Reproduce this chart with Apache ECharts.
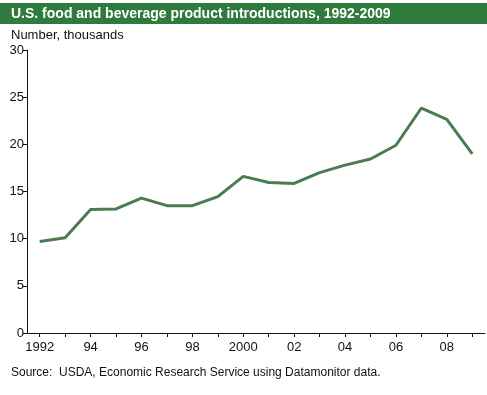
<!DOCTYPE html>
<html>
<head>
<meta charset="utf-8">
<script src="https://cdn.jsdelivr.net/npm/echarts@6/dist/echarts.min.js"></script>
<style>
html,body{margin:0;padding:0;background:#fff;}
#chart{width:487px;height:395px;}
</style>
</head>
<body>
<div id="chart"></div>
<script>
const years = ['1992','1993','1994','1995','1996','1997','1998','1999','2000','2001','2002','2003','2004','2005','2006','2007','2008','2009'];
const tickLabels = ['1992','','94','','96','','98','','2000','','02','','04','','06','','08',''];
const introductions = [9.7, 10.1, 13.1, 13.15, 14.3, 13.5, 13.5, 14.45, 16.6, 15.95, 15.85, 17.0, 17.8, 18.45, 19.9, 23.85, 22.65, 19.0];
const yTicks = [0, 5, 10, 15, 20, 25, 30];

const chart = echarts.init(document.getElementById('chart'), null, {renderer: 'canvas'});
const font = 'Liberation Sans, Arial, Helvetica, sans-serif';
chart.setOption({
  animation: false,
  backgroundColor: '#ffffff',
  graphic: [{
    type: 'rect',
    shape: {x: 0, y: 3, width: 487, height: 21},
    style: {fill: '#2f7b3e'},
    z: 0
  }],
  title: [
    {
      text: 'U.S. food and beverage product introductions, 1992-2009',
      left: 11, top: 7, padding: 0,
      textStyle: {color: '#ffffff', fontWeight: 'bold', fontSize: 14, lineHeight: 14, fontFamily: font}
    },
    {
      text: 'Number, thousands',
      left: 11, top: 28, padding: 0,
      textStyle: {color: '#111111', fontWeight: 'normal', fontSize: 13, lineHeight: 14, fontFamily: font}
    },
    {
      text: 'Source:  USDA, Economic Research Service using Datamonitor data.',
      left: 11, top: 366, padding: 0,
      textStyle: {color: '#111111', fontWeight: 'normal', fontSize: 12, lineHeight: 13, fontFamily: font}
    }
  ],
  grid: {left: 27, right: 2, top: 50, bottom: 62, containLabel: false},
  xAxis: {
    type: 'category',
    data: years,
    boundaryGap: true,
    axisLine: {lineStyle: {color: '#111111', width: 1}},
    axisTick: {show: true, alignWithLabel: true, interval: 0, length: 4, lineStyle: {color: '#111111'}},
    axisLabel: {
      interval: 0, margin: 8, color: '#111111', fontSize: 13, fontFamily: font,
      formatter: function (v, i) { return tickLabels[i]; }
    },
    splitLine: {show: false}
  },
  yAxis: {
    type: 'value',
    min: yTicks[0], max: yTicks[yTicks.length - 1], interval: 5,
    axisLine: {show: true, lineStyle: {color: '#111111', width: 1}},
    axisTick: {show: true, length: 4, lineStyle: {color: '#111111'}},
    axisLabel: {margin: 3, color: '#111111', fontSize: 13, fontFamily: font},
    splitLine: {show: false}
  },
  series: [{
    type: 'line',
    data: introductions,
    symbol: 'none',
    lineStyle: {color: '#4b7b52', width: 3},
    z: 3
  }]
});
</script>
</body>
</html>
